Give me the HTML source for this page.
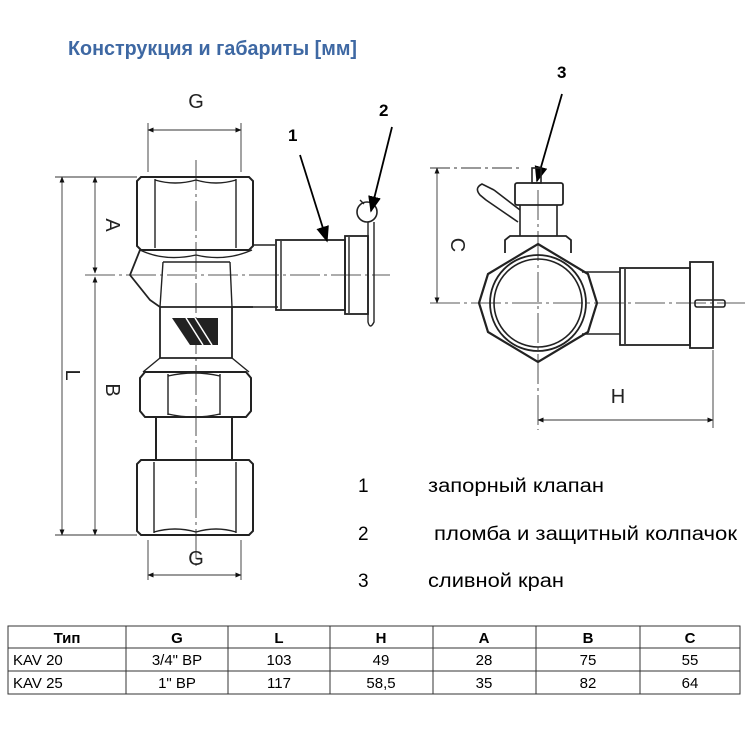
<!DOCTYPE html>
<html><head><meta charset="utf-8"><style>
html,body{margin:0;padding:0;background:#fff;width:750px;height:750px;overflow:hidden}
svg{display:block}
</style></head><body>
<svg width="750" height="750" viewBox="0 0 750 750" xmlns="http://www.w3.org/2000/svg" font-family="Liberation Sans, sans-serif">
<defs>
<marker id="ar" viewBox="0 0 10 10" refX="9" refY="5" markerWidth="7" markerHeight="7" orient="auto-start-reverse"><path d="M0,1 L10,5 L0,9 z" fill="#111"/></marker>
<marker id="ab" viewBox="0 0 10 10" refX="9" refY="5" markerWidth="9" markerHeight="9" orient="auto"><path d="M0,1 L10,5 L0,9 z" fill="#000"/></marker>
</defs>
<text x="68" y="55" font-size="20" font-weight="bold" fill="#3e68a3" textLength="289" lengthAdjust="spacingAndGlyphs">Конструкция и габариты [мм]</text>

<g stroke="#222" fill="none" stroke-width="1.4">
<line x1="196" y1="160" x2="196" y2="570" stroke-width="0.8" stroke-dasharray="30,4,3,4"/>
<line x1="85" y1="275" x2="390" y2="275" stroke-width="0.8" stroke-dasharray="30,4,3,4"/>
<path d="M141,177 H249 L253,181 V246 L249,250 H141 L137,246 V181 Z" stroke-width="2"/>
<line x1="155" y1="179" x2="155" y2="248"/><line x1="236" y1="179" x2="236" y2="248"/>
<path d="M155,180 Q175,186 196,180 Q216,186 236,180"/>
<path d="M140,250 Q165,262 196,255 Q225,262 252,250"/>
<path d="M140,250 L130,275 L150,300 L160,307 H232 L253,307" stroke-width="1.8"/>
<path d="M163,262 L160,307 M230,262 L232,307"/>
<line x1="163" y1="262" x2="230" y2="262"/>
<path d="M253,245 H275 M232,307 H278" stroke-width="1.6"/>
<rect x="276" y="240" width="69" height="70" stroke-width="1.8"/>
<line x1="281" y1="241" x2="281" y2="309"/>
<rect x="345" y="236" width="23" height="78" stroke-width="1.8"/>
<line x1="349" y1="237" x2="349" y2="313"/>
<path d="M368,222 V322 Q370,330 374,322 V222"/>
<circle cx="367" cy="212" r="10" stroke-width="1.6"/>
<path d="M360,200 L364,204 M374,200 L370,204"/>
<path d="M160,307 V358 H232 V307" stroke-width="1.8"/>
<path d="M160,358 L143,372 M232,358 L249,372"/>
<polygon points="172,318 218,318 218,345 190,345" fill="#222" stroke="none"/>
<path d="M186,318 L203,345 M195,318 L212,345" stroke="#fff" stroke-width="1.5"/>
<path d="M145,372 H246 L251,378 V411 L246,417 H145 L140,411 V378 Z" stroke-width="2"/>
<line x1="168" y1="374" x2="168" y2="415"/><line x1="220" y1="374" x2="220" y2="415"/>
<path d="M168,376 Q194,370 220,376 M168,414 Q194,420 220,414"/>
<line x1="156" y1="417" x2="156" y2="460" stroke-width="2"/><line x1="232" y1="417" x2="232" y2="460" stroke-width="2"/>
<path d="M141,460 H249 L253,464 V531 L249,535 H141 L137,531 V464 Z" stroke-width="2"/>
<line x1="154" y1="462" x2="154" y2="533"/><line x1="236" y1="462" x2="236" y2="533"/>
<path d="M154,532 Q175,526 196,532 Q216,526 236,532"/>
</g>

<g stroke="#333" stroke-width="0.9" fill="none">
<line x1="55" y1="177" x2="137" y2="177"/><line x1="55" y1="535" x2="137" y2="535"/>
<line x1="62" y1="177" x2="62" y2="535" marker-start="url(#ar)" marker-end="url(#ar)"/>
<line x1="95" y1="177" x2="95" y2="273" marker-start="url(#ar)" marker-end="url(#ar)"/>
<line x1="95" y1="277" x2="95" y2="535" marker-start="url(#ar)" marker-end="url(#ar)"/>
<line x1="148" y1="123" x2="148" y2="172"/><line x1="241" y1="123" x2="241" y2="172"/>
<line x1="148" y1="130" x2="241" y2="130" marker-start="url(#ar)" marker-end="url(#ar)"/>
<line x1="148" y1="540" x2="148" y2="580"/><line x1="241" y1="540" x2="241" y2="580"/>
<line x1="148" y1="575" x2="241" y2="575" marker-start="url(#ar)" marker-end="url(#ar)"/>
</g>
<g font-size="20" fill="#222">
<text x="196" y="108" text-anchor="middle">G</text>
<text x="196" y="565" text-anchor="middle">G</text>
<text transform="translate(106,225) rotate(90)" text-anchor="middle">A</text>
<text transform="translate(106,390) rotate(90)" text-anchor="middle">B</text>
<text transform="translate(66,375) rotate(90)" text-anchor="middle">L</text>
</g>
<g font-size="17" font-weight="bold" fill="#000">
<text x="288" y="141">1</text><text x="379" y="116">2</text><text x="557" y="78">3</text>
</g>
<g stroke="#000" stroke-width="1.8">
<line x1="300" y1="155" x2="327" y2="241" marker-end="url(#ab)"/>
<line x1="392" y1="127" x2="371" y2="211" marker-end="url(#ab)"/>
<line x1="562" y1="94" x2="537" y2="181" marker-end="url(#ab)"/>
</g>

<g stroke="#222" fill="none" stroke-width="1.6">
<line x1="430" y1="303" x2="745" y2="303" stroke-width="0.8" stroke-dasharray="30,4,3,4"/>
<line x1="538" y1="190" x2="538" y2="430" stroke-width="0.8" stroke-dasharray="30,4,3,4"/>
<polygon points="538,244 588,274 597,303 588,332 538,362 488,332 479,303 488,274" stroke-width="2.2"/>
<circle cx="538" cy="303" r="48" stroke-width="1.8"/>
<circle cx="538" cy="303" r="44"/>
<path d="M505,253 V240 L510,236 H566 L571,240 V253" stroke-width="1.8"/>
<path d="M520,236 V205 M557,236 V205"/>
<rect x="515" y="183" width="48" height="22" rx="2" stroke-width="1.8"/>
<rect x="532" y="168" width="9" height="15"/>
<path d="M518,222 L486,200 M520,210 L494,190 M486,200 L480,195 Q474,188 482,184 L494,190"/>
<path d="M582,272 H620 M582,334 H620" />
<rect x="620" y="268" width="70" height="77" stroke-width="1.8"/>
<line x1="625" y1="269" x2="625" y2="344"/>
<rect x="690" y="262" width="23" height="86" stroke-width="1.8"/>
<rect x="695" y="300" width="30" height="7" rx="2"/>
</g>
<g stroke="#333" stroke-width="0.9" fill="none">
<line x1="430" y1="168" x2="520" y2="168" stroke-dasharray="20,4,3,4"/>
<line x1="437" y1="168" x2="437" y2="303" marker-start="url(#ar)" marker-end="url(#ar)"/>
<line x1="713" y1="350" x2="713" y2="428"/>
<line x1="538" y1="420" x2="713" y2="420" marker-start="url(#ar)" marker-end="url(#ar)"/>
</g>
<g font-size="20" fill="#222">
<text transform="translate(451,245) rotate(90)" text-anchor="middle">C</text>
<text x="618" y="403" text-anchor="middle">H</text>
</g>

<g font-size="19" fill="#000">
<text x="358" y="492">1</text><text x="428" y="492" textLength="176" lengthAdjust="spacingAndGlyphs">запорный клапан</text>
<text x="358" y="540">2</text><text x="434" y="540" textLength="303" lengthAdjust="spacingAndGlyphs">пломба и защитный колпачок</text>
<text x="358" y="587">3</text><text x="428" y="587" textLength="136" lengthAdjust="spacingAndGlyphs">сливной кран</text>
</g>

<g stroke="#333" stroke-width="1" fill="none">
<rect x="8" y="626" width="732" height="68"/>
<line x1="8" y1="648" x2="740" y2="648"/><line x1="8" y1="671" x2="740" y2="671"/>
<line x1="126" y1="626" x2="126" y2="694"/><line x1="228" y1="626" x2="228" y2="694"/>
<line x1="330" y1="626" x2="330" y2="694"/><line x1="433" y1="626" x2="433" y2="694"/>
<line x1="536" y1="626" x2="536" y2="694"/><line x1="640" y1="626" x2="640" y2="694"/>
</g>
<g font-size="15" fill="#000" text-anchor="middle">
<g font-weight="bold">
<text x="67" y="643">Тип</text><text x="177" y="643">G</text><text x="279" y="643">L</text><text x="381" y="643">H</text><text x="484" y="643">A</text><text x="588" y="643">B</text><text x="690" y="643">C</text>
</g>
<text x="13" y="665" text-anchor="start">KAV 20</text><text x="177" y="665">3/4" ВР</text><text x="279" y="665">103</text><text x="381" y="665">49</text><text x="484" y="665">28</text><text x="588" y="665">75</text><text x="690" y="665">55</text>
<text x="13" y="688" text-anchor="start">KAV 25</text><text x="177" y="688">1" ВР</text><text x="279" y="688">117</text><text x="381" y="688">58,5</text><text x="484" y="688">35</text><text x="588" y="688">82</text><text x="690" y="688">64</text>
</g>
</svg>
</body></html>
